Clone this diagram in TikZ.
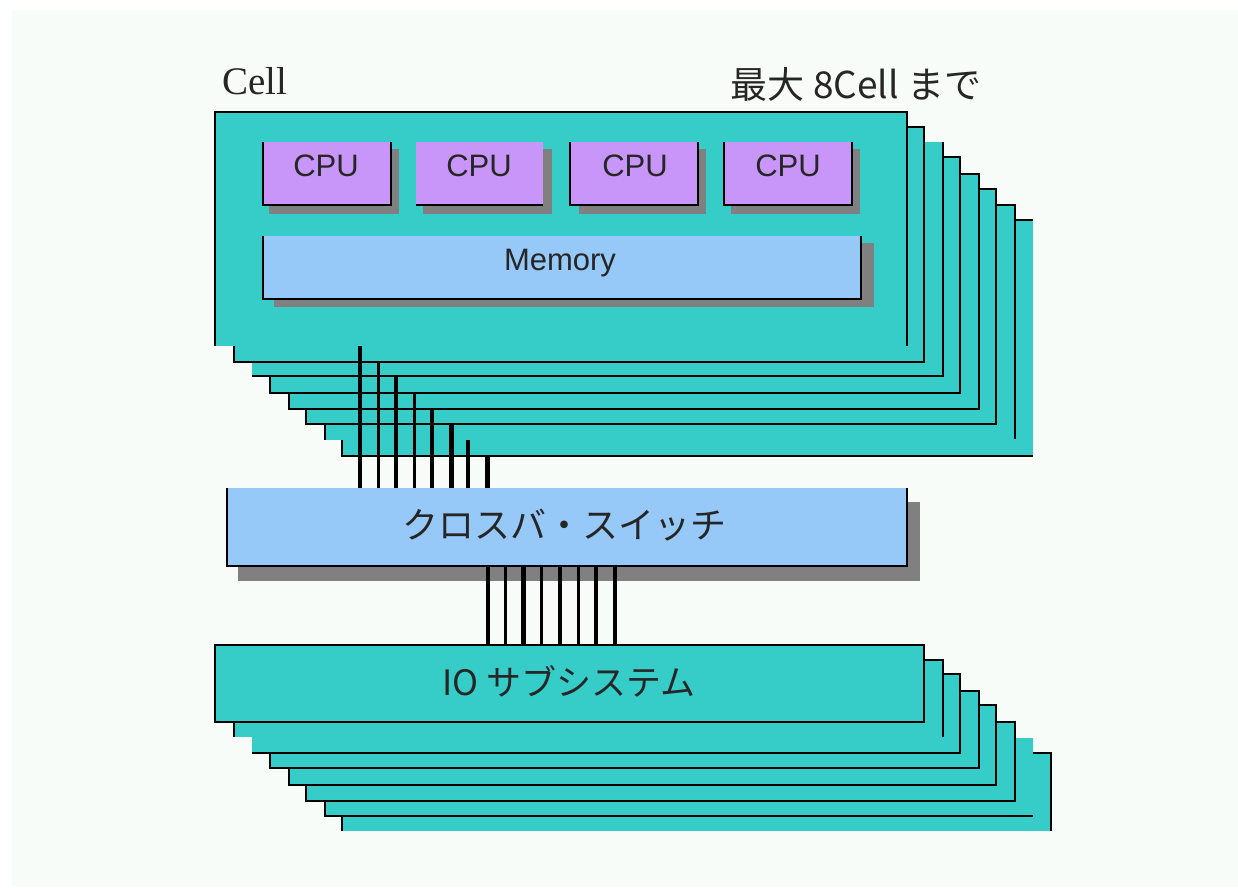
\documentclass[tikz,border=0pt]{standalone}
\usepackage{fontspec}
\usetikzlibrary{calc}
\setmainfont{Liberation Sans}
\newfontfamily\cjkjp{Noto Sans CJK JP}
\newfontfamily\cellserif{Liberation Serif}
\definecolor{paper}{HTML}{F8FCF8}
\definecolor{teal}{HTML}{36CCC8}
\definecolor{lilac}{HTML}{C896F8}
\definecolor{sky}{HTML}{96C8F8}
\definecolor{shade}{HTML}{808080}
\tikzset{
  x=1pt,y=-1pt,
  panel/.style={anchor=north west,inner sep=0pt,outer sep=0pt,draw=none},
  edge/.style={line width=2.4pt,black,line cap=butt,line join=miter},
  thickbus/.style={line width=4.6pt,black},
  thinbus/.style={line width=3pt,black},
  sanslabel/.style={inner sep=0pt,font=\fontsize{31}{31}\selectfont,text=black!85},
  jplabel/.style={inner sep=0pt,font=\cjkjp\fontsize{36}{36}\selectfont,text=black!85},
}
% name, left, top, right, bottom, fill colour
\newcommand{\panelbox}[6]{\node[panel,fill=#6,minimum width={(#4-#2)*1pt},minimum height={(#5-#3)*1pt}] (#1) at (#2,#3) {};}
\newcommand{\layerbox}[6]{\panelbox{#1}{#2}{#3}{#4}{#5}{teal}
  \draw[edge] #6;}
\begin{document}
\begin{tikzpicture}
\useasboundingbox (0,0) rectangle (1238,887);
\fill[white] (0,0) rectangle (1238,887);
\fill[paper] (12,10) rectangle (1238,887);

% ---- Cell stack, back to front
\panelbox{cellH}{342}{220}{1033}{456}{teal}
\panelbox{cellG}{325}{205}{1015}{440}{teal}
\draw[edge] (cellG.north east |- cellH.north) -- (cellH.north east) (cellH.west |- cellG.south) -- (cellH.south west) -- (cellH.south east);
\draw[edge] (cellG.north west) -- (cellG.north east) -- ($(cellG.south east)+(0,-1)$) (cellG.north west) -- (cellG.south west);
\layerbox{cellF}{306}{189}{996}{424}{(cellF.north west) -- (cellF.north east) -- (cellF.south east) -- (cellF.south west) -- cycle}
\layerbox{cellE}{289}{174}{979}{409}{(cellE.north west) -- (cellE.north east) -- (cellE.south east) -- (cellE.south west) -- cycle}
\layerbox{cellD}{270}{157}{960}{393}{(cellD.north west) -- (cellD.north east) -- (cellD.south east) -- (cellD.south west) -- cycle}
\layerbox{cellC}{252}{142}{943}{376}{(cellC.north east) -- (cellC.south east) -- (cellC.south west)}
\layerbox{cellB}{234}{127}{924}{362}{(cellB.north west) -- (cellB.north east) -- (cellB.south east) -- (cellB.south west) -- cycle}
\layerbox{cellA}{215}{112}{907}{346}{(cellA.south west) -- (cellA.north west) -- (cellA.north east) -- (cellA.south east)}
\node[inner sep=0pt,font=\cellserif\fontsize{39}{39}\selectfont,text=black!85] (celltitle) at (255,81) {Cell};
\node[jplabel,font=\cjkjp\fontsize{37}{37}\selectfont] (cellmax) at (856,84) {最大 8Cell まで};

% ---- CPUs and memory
\panelbox{cpuAs}{269}{149}{399}{214}{shade}
\panelbox{cpuBs}{423}{149}{552}{214}{shade}
\panelbox{cpuCs}{579}{149}{706}{214}{shade}
\panelbox{cpuDs}{731}{149}{860}{214}{shade}
\panelbox{memS}{274}{243}{874}{307}{shade}
\panelbox{cpuA}{263}{142}{391}{205}{lilac}
\panelbox{cpuB}{416}{142}{543}{205}{lilac}
\panelbox{cpuC}{570}{142}{698}{205}{lilac}
\panelbox{cpuD}{724}{142}{852}{205}{lilac}
\panelbox{mem}{263}{236}{861}{299}{sky}
\draw[edge] (cpuA.north west) -- (cpuA.south west) -- (cpuA.south east) -- (cpuA.north east);
\draw[edge] (cpuB.south west) -- (cpuB.south east);
\draw[edge] (cpuC.north west) -- (cpuC.south west) -- (cpuC.south east) -- (cpuC.north east);
\draw[edge] (cpuD.north west) -- (cpuD.south west) -- (cpuD.south east) -- (cpuD.north east);
\draw[edge] (mem.north west) -- (mem.south west) -- (mem.south east) -- (mem.north east);
\node[sanslabel] (cpuAt) at (326,166) {CPU};
\node[sanslabel] (cpuBt) at (479,166) {CPU};
\node[sanslabel] (cpuCt) at (635,166) {CPU};
\node[sanslabel] (cpuDt) at (788,166) {CPU};
\node[sanslabel] (memt) at (560,263) {Memory};

% ---- Crossbar
\panelbox{xbarS}{238}{502}{920}{581}{shade}
\panelbox{xbar}{227}{488}{907}{566}{sky}
\draw[edge] (xbar.north west) -- (xbar.south west) -- (xbar.south east) -- (xbar.north east);
\node[jplabel] (xbart) at (564,525) {クロスバ・スイッチ};

% ---- IO stack, back to front
\panelbox{ioH}{342}{753}{1051}{831}{teal}
\panelbox{ioG}{325}{738}{1033}{816}{teal}
\draw[edge] (ioG.north east |- ioH.north) -- (ioH.north east) -- (ioH.south east) (ioH.west |- ioG.south) -- (ioH.south west);
\draw[edge] (ioG.north west) -- (ioG.south west) -- (ioG.south east);
\layerbox{ioF}{306}{722}{1015}{801}{(ioF.north west) -- (ioF.north east) -- (ioF.south east) -- (ioF.south west) -- cycle}
\layerbox{ioE}{289}{705}{996}{785}{(ioE.north west) -- (ioE.north east) -- (ioE.south east) -- (ioE.south west) -- cycle}
\layerbox{ioD}{270}{691}{979}{768}{(ioD.north west) -- (ioD.north east) -- (ioD.south east) -- (ioD.south west) -- cycle}
\layerbox{ioC}{252}{674}{960}{753}{(ioC.north west) -- (ioC.north east) -- (ioC.south east) -- (ioC.south west)}
\layerbox{ioB}{234}{660}{943}{737}{(ioB.south west) -- (ioB.north west) -- (ioB.north east) -- (ioB.south east)}
\layerbox{ioA}{215}{645}{924}{722}{(ioA.north west) -- (ioA.north east) -- (ioA.south east) -- (ioA.south west) -- cycle}
\node[jplabel,font=\cjkjp\fontsize{35}{35}\selectfont] (iot) at (569,681) {IO サブシステム};

% ---- Buses: cells to crossbar
\coordinate (busA) at (360,346);
\coordinate (busB) at (378,362);
\coordinate (busC) at (396,377);
\coordinate (busD) at (414,393);
\coordinate (busE) at (432,410);
\coordinate (busF) at (451.5,425);
\coordinate (busG) at (468,440);
\coordinate (busH) at (487.5,456);
\draw[thickbus] (busA) -- (busA |- xbar.north);
\draw[thinbus]  (busB) -- (busB |- xbar.north);
\draw[thickbus] (busC) -- (busC |- xbar.north);
\draw[thinbus]  (busD) -- (busD |- xbar.north);
\draw[thickbus] (busE) -- (busE |- xbar.north);
\draw[thickbus] (busF) -- (busF |- xbar.north);
\draw[thickbus] (busG) -- (busG |- xbar.north);
\draw[thickbus] (busH) -- (busH |- xbar.north);

% ---- Buses: crossbar to IO
\coordinate (ioa) at (488,566);
\coordinate (iob) at (505.5,566);
\coordinate (ioc) at (523.5,566);
\coordinate (iod) at (541.5,566);
\coordinate (ioe) at (560,566);
\coordinate (iof) at (578,566);
\coordinate (iog) at (596,566);
\coordinate (ioh) at (615,566);
\draw[thickbus] (ioa) -- (ioa |- ioA.north);
\draw[thinbus]  (iob) -- (iob |- ioA.north);
\draw[thickbus] (ioc) -- (ioc |- ioA.north);
\draw[thinbus]  (iod) -- (iod |- ioA.north);
\draw[thickbus] (ioe) -- (ioe |- ioA.north);
\draw[thinbus]  (iof) -- (iof |- ioA.north);
\draw[thickbus] (iog) -- (iog |- ioA.north);
\draw[thickbus] (ioh) -- (ioh |- ioA.north);
\end{tikzpicture}
\end{document}
